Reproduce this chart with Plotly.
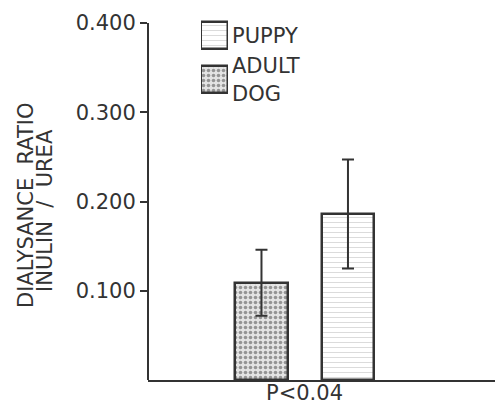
import plotly.graph_objects as go

# Data
groups = ["ADULT DOG", "PUPPY"]
ratio_mean = [0.109, 0.186]
ratio_err = [0.037, 0.061]
patterns = [".", "-"]
legend_names = ["ADULT DOG", "PUPPY"]
legend_text = ["ADULT<br>DOG", "PUPPY"]
y_ticks = [0.1, 0.2, 0.3, 0.4]
y_ticklabels = ["0.100", "0.200", "0.300", "0.400"]
p_label = "P<0.04"
title_lines = ["DIALYSANCE  RATIO", "INULIN  /  UREA"]

FONT = "DejaVu Sans"
INK = "#333333"


def pattern_for(p):
    if p == ".":
        return dict(shape=".", fgcolor="#444444", bgcolor="#e4e4e4", size=5, solidity=0.4)
    return dict(shape="-", fgcolor="#a0a0a0", bgcolor="white", size=5, solidity=0.15)


fig = go.Figure()

for g, m, e, p in zip(groups, ratio_mean, ratio_err, patterns):
    fig.add_trace(go.Bar(
        x=[g], y=[m], width=0.61,
        error_y=dict(type="data", array=[e], color=INK, thickness=2, width=6),
        marker=dict(color="white", line=dict(color=INK, width=2.5), pattern=pattern_for(p)),
        showlegend=False, xaxis="x", yaxis="y",
    ))

# Legend swatches as a small inset subplot
for name, p in zip(legend_names, patterns):
    fig.add_trace(go.Bar(
        y=[name], x=[1], orientation="h", width=0.6,
        marker=dict(color="white", line=dict(color=INK, width=2.5), pattern=pattern_for(p)),
        showlegend=False, xaxis="x2", yaxis="y2",
    ))

ytop = 0.4 * 370 / 357

fig.update_layout(
    width=495, height=410,
    margin=dict(l=148, r=0, t=10, b=30),
    paper_bgcolor="white", plot_bgcolor="white",
    font=dict(family=FONT, color=INK),
    bargap=0,
    xaxis=dict(
        type="category", categoryorder="array", categoryarray=groups,
        range=[-1.312, 2.70], showticklabels=False, ticks="",
        showline=True, linecolor=INK, linewidth=2, showgrid=False, zeroline=False,
        domain=[0, 1],
    ),
    yaxis=dict(
        range=[0, ytop], tickvals=y_ticks, ticktext=y_ticklabels,
        ticks="outside", ticklen=7, tickwidth=2, tickcolor=INK,
        tickfont=dict(size=21, family=FONT, color=INK),
        showline=False, showgrid=False, zeroline=False,
    ),
    xaxis2=dict(domain=[(201 - 148) / 347, (228 - 148) / 347], anchor="y2",
                range=[0, 1], visible=False, fixedrange=True),
    yaxis2=dict(domain=[(380 - 102) / 370, (380 - 13) / 370], anchor="x2",
                type="category", categoryorder="array", categoryarray=legend_names,
                tickvals=legend_names, ticktext=legend_text, side="right",
                showline=False, ticks="", showgrid=False, zeroline=False,
                tickfont=dict(size=21, family=FONT, color=INK), ticklabelstandoff=3),
)

# y axis line from 0 to 0.4
fig.add_shape(type="line", xref="paper", yref="y", x0=0, x1=0, y0=0, y1=max(y_ticks),
              line=dict(color=INK, width=2))

# axis title lines
fig.add_annotation(text=title_lines[0], xref="paper", yref="paper",
                   x=(26 - 148) / 347, y=(380 - 205) / 370, textangle=-90,
                   showarrow=False, font=dict(size=21, family=FONT, color=INK),
                   xanchor="center", yanchor="middle")
fig.add_annotation(text=title_lines[1], xref="paper", yref="paper",
                   x=(45 - 148) / 347, y=(380 - 211) / 370, textangle=-90,
                   showarrow=False, font=dict(size=21, family=FONT, color=INK),
                   xanchor="center", yanchor="middle")

fig.add_annotation(text=p_label, xref="x", yref="paper", x=0.5, y=0,
                   yshift=-13, showarrow=False, yanchor="middle",
                   font=dict(size=21, family=FONT, color=INK))

fig.write_html("out.html", config={"displayModeBar": False},
               post_script="document.body.style.margin='0';")
